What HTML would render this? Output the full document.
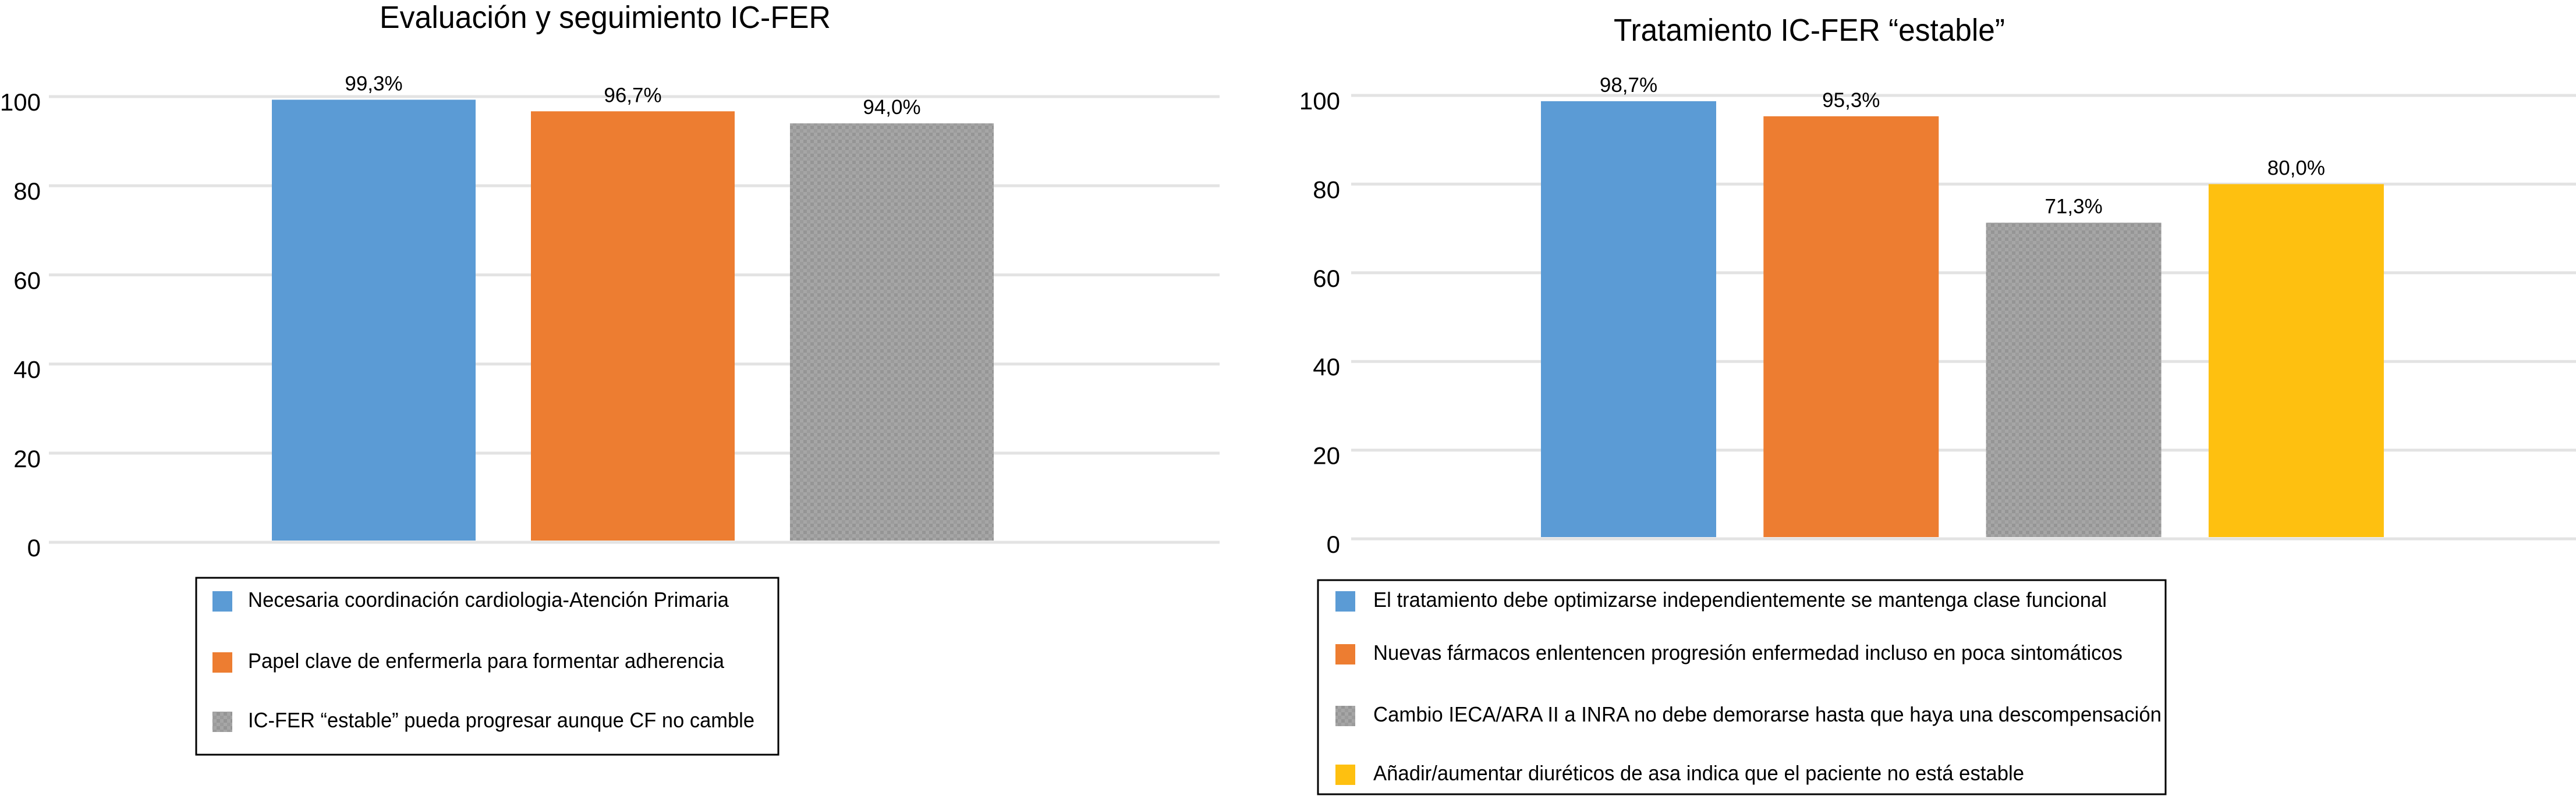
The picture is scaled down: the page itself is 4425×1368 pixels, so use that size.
<!DOCTYPE html>
<html><head><meta charset="utf-8"><style>
html,body{margin:0;padding:0;background:#fff;}
svg{display:block;font-family:"Liberation Sans",Arial,sans-serif;}
</style></head><body>
<svg id="chart" width="4425" height="1368" viewBox="0 0 4425 1368" xmlns="http://www.w3.org/2000/svg">
<defs>
<pattern id="grayPat" width="12" height="12" patternUnits="userSpaceOnUse">
<rect width="12" height="12" fill="#a6a6a6"/>
<rect x="0" y="0" width="6" height="6" fill="#959595"/>
<rect x="6" y="6" width="6" height="6" fill="#9b9b9b"/>
</pattern>
</defs>
<text x="652" y="48" font-size="54" textLength="775" lengthAdjust="spacingAndGlyphs">Evaluación y seguimiento IC-FER</text>
<text x="2772" y="70" font-size="54" textLength="672" lengthAdjust="spacingAndGlyphs">Tratamiento IC-FER “estable”</text>
<g id="left"></g>
<g id="right"></g>

<rect x="337" y="993" width="1000" height="304" fill="none" stroke="#000" stroke-width="3"/>
<rect x="2264" y="997" width="1456" height="368" fill="none" stroke="#000" stroke-width="3"/>
<g id="legends"></g>
</svg>
<script>
const leftCategories = ["Necesaria coordinación cardiologia-Atención Primaria","Papel clave de enfermerla para formentar adherencia","IC-FER “estable” pueda progresar aunque CF no camble"];
const leftValues = [99.3, 96.7, 94.0];
const leftLabels = ["99,3%","96,7%","94,0%"];
const rightCategories = ["El tratamiento debe optimizarse independientemente se mantenga clase funcional","Nuevas fármacos enlentencen progresión enfermedad incluso en poca sintomáticos","Cambio IECA/ARA II a INRA no debe demorarse hasta que haya una descompensación","Añadir/aumentar diuréticos de asa indica que el paciente no está estable"];
const rightValues = [98.7, 95.3, 71.3, 80.0];
const rightLabels = ["98,7%","95,3%","71,3%","80,0%"];
const tickValues = [0,20,40,60,80,100];

const colors = ["#5b9bd5","#ed7d31","url(#grayPat)","#fec010"];
const NS = "http://www.w3.org/2000/svg";
function mk(tag, attrs, parent){const e=document.createElementNS(NS,tag);for(const k in attrs)e.setAttribute(k,attrs[k]);parent.appendChild(e);return e;}

function drawChart(g, cfg, values, labels){
  const y = v => cfg.y0 - v*(cfg.y0-cfg.y100)/100;
  tickValues.forEach(t=>{
    const ln = mk('line',{x1:cfg.gx0,x2:cfg.gx1,y1:y(t),y2:y(t),stroke:'#e3e3e3','stroke-width':5},g);
    
    
    const tx = mk('text',{x:cfg.tickX,y:y(t)+24,'font-size':42,'text-anchor':'end'},g);
    tx.textContent = t;
    
    
  });
  values.forEach((v,i)=>{
    const x = cfg.bx0 + i*cfg.step;
    const r = mk('rect',{x:x,y:y(v),width:cfg.bw,height:y(0)-y(v)-3,fill:colors[i]},g);
    
    
    const t = mk('text',{x:x+cfg.bw/2,y:y(v)-16,'font-size':35,'text-anchor':'middle'},g);
    t.textContent = labels[i];
    
    
  });
}
drawChart(document.getElementById('left'),{y0:932,y100:166,gx0:84,gx1:2095,tickX:70,bx0:467,step:445,bw:350},leftValues,leftLabels);
drawChart(document.getElementById('right'),{y0:926,y100:164,gx0:2321,gx1:4425,tickX:2302,bx0:2647,step:382.3,bw:301},rightValues,rightLabels);

function drawLegend(cats, sx, tx, baselines, widths){
  const g = document.getElementById('legends');
  cats.forEach((c,i)=>{
    const s = mk('rect',{x:sx,y:baselines[i]-27,width:34,height:35,fill:colors[i]},g);
    
    
    const t = mk('text',{x:tx,y:baselines[i],'font-size':36,textLength:widths[i],lengthAdjust:'spacingAndGlyphs'},g);
    t.textContent = c;
    
    
  });
}
drawLegend(leftCategories,365,426,[1043,1148,1250],[826,818,870]);
drawLegend(rightCategories,2294,2359,[1043,1134,1240,1341],[1260,1287,1354,1118]);
</script>
</body></html>
